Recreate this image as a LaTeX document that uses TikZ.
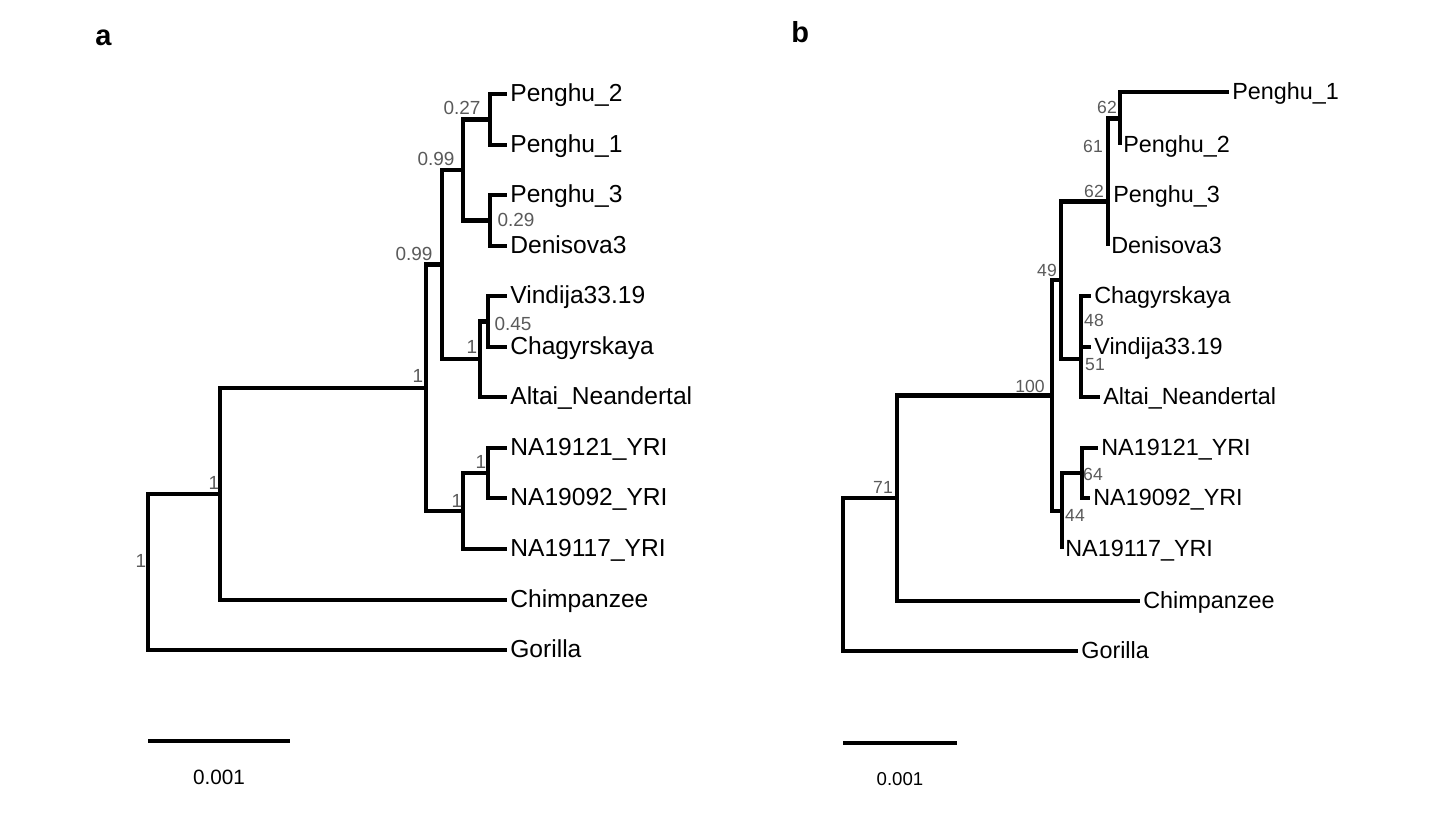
\documentclass[tikz,border=0pt]{standalone}
\usepackage{fontspec}
\setmainfont{Liberation Sans}
\definecolor{supportcolor}{HTML}{5A5A5A}
\tikzset{
  tree edge/.style={line width=2.7pt},
  scale bar/.style={line width=2.8pt},
  tip/.style={anchor=base west,inner sep=0pt,xshift=1.7pt,yshift=-4.25pt},
  tip a/.style={tip,font=\fontsize{14}{14}\selectfont},
  tip b/.style={tip,font=\fontsize{13.3}{14}\selectfont},
  support a/.style={text=supportcolor,inner sep=0pt,font=\fontsize{10.8}{11}\selectfont},
  support b/.style={text=supportcolor,inner sep=0pt,font=\fontsize{10}{11}\selectfont},
  panel/.style={anchor=base west,inner sep=0pt,font=\bfseries\fontsize{16.5}{17}\selectfont}
}

\begin{document}
\begin{tikzpicture}[x=0.02cm,y=-0.02cm]
  \useasboundingbox (0,0) rectangle (1456,816);

  % panel a
  \node[panel] (pa) at (95,45) {a};
  \foreach \n/\y/\t in {aP2/94/Penghu\_2,aP1/145/Penghu\_1,aP3/195/Penghu\_3,aD3/246/Denisova3,
      aVi/296/Vindija33.19,aCh/347/Chagyrskaya,aAl/397/Altai\_Neandertal,
      aN121/448/NA19121\_YRI,aN092/498/NA19092\_YRI,aN117/549/NA19117\_YRI,
      aPan/600/Chimpanzee,aGor/650/Gorilla}{
    \coordinate (\n) at (507,\y);
    \node[tip a] (\n-lab) at (\n) {\t};
  }
  \coordinate (a27) at (490,119.5);
  \coordinate (a29) at (490,220.5);
  \coordinate (a99b) at (463,170);
  \coordinate (a45) at (488,321.5);
  \coordinate (aNea) at (480,359);
  \coordinate (a99a) at (442,264.5);
  \coordinate (aY2) at (488,473);
  \coordinate (aY1) at (463,511);
  \coordinate (aHum) at (426,388);
  \coordinate (aAfr) at (220,494);
  \coordinate (aRoot) at (148,572);
  \foreach \p/\c in {a27/aP2,a27/aP1,a29/aP3,a29/aD3,a99b/a27,a99b/a29,
      a45/aVi,a45/aCh,aNea/a45,aNea/aAl,a99a/a99b,a99a/aNea,
      aY2/aN121,aY2/aN092,aY1/aY2,aY1/aN117,aHum/a99a,aHum/aY1,
      aAfr/aHum,aAfr/aPan,aRoot/aAfr,aRoot/aGor}{
    \draw[tree edge] (\p) |- (\c);
  }
  \foreach \n/\x/\y/\t in {s27/462/108/0.27,s29/516/220/0.29,s99b/436/159/0.99,
      s99a/414/254/0.99,s45/513/324/0.45,sNea/472/347/1,sY2/481/462/1,
      sY1/457/501/1,sHum/418/376/1,sAfr/214/483/1,sRoot/141/561/1}{
    \node[support a] (a\n) at (\x,\y) {\t};
  }
  \coordinate (sa0) at (148,741);
  \coordinate (sa1) at (290,741);
  \draw[scale bar] (sa0) -- (sa1);
  \node[font=\fontsize{11.8}{12}\selectfont,inner sep=0pt] (sa-lab) at (219,777) {0.001};

  % panel b
  \node[panel] (pb) at (791,42) {b};
  \foreach \n/\x/\y/\t in {bP1/1229/92/Penghu\_1,bP2/1120/145/Penghu\_2,bP3/1110/195/Penghu\_3,
      bD3/1108/246/Denisova3,bCh/1091/296/Chagyrskaya,bVi/1091/347/Vindija33.19,
      bAl/1100/397/Altai\_Neandertal,bN121/1098/448/NA19121\_YRI,
      bN092/1090/498/NA19092\_YRI,bN117/1062/549/NA19117\_YRI,
      bPan/1140/601/Chimpanzee,bGor/1078/651/Gorilla}{
    \coordinate (\n) at (\x,\y);
    \node[tip b] (\n-lab) at (\n) {\t};
  }
  \coordinate (b62a) at (1120,118.5);
  \coordinate (b61) at (1108,157);
  \coordinate (b62b) at (1108,201.5);
  \coordinate (b48) at (1081,321.5);
  \coordinate (b51) at (1081,359);
  \coordinate (b49) at (1061,280);
  \coordinate (b64) at (1082,473);
  \coordinate (b44) at (1062,511);
  \coordinate (b100) at (1052,395.5);
  \coordinate (b71) at (897,498);
  \coordinate (bRoot) at (843,574.5);
  \foreach \p/\c in {b62a/bP1,b62a/bP2,b61/b62a,b61/bP3,b62b/b61,b62b/bD3,
      b48/bCh,b48/bVi,b51/b48,b51/bAl,b49/b62b,b49/b51,
      b64/bN121,b64/bN092,b44/b64,b44/bN117,b100/b49,b100/b44,
      b71/b100,b71/bPan,bRoot/b71,bRoot/bGor}{
    \draw[tree edge] (\p) |- (\c);
  }
  \foreach \n/\x/\y/\t in {s62a/1107/107.5/62,s61/1093/146/61,s62b/1094/191/62,
      s49/1047/270/49,s100/1030/386/100,s71/883/487/71,s48/1094/320/48,
      s51/1095/365/51,s64/1093/474/64,s44/1075/515/44}{
    \node[support b] (b\n) at (\x,\y) {\t};
  }
  \coordinate (sb0) at (843,743);
  \coordinate (sb1) at (957,743);
  \draw[scale bar] (sb0) -- (sb1);
  \node[font=\fontsize{10.6}{11}\selectfont,inner sep=0pt] (sb-lab) at (900,779) {0.001};
\end{tikzpicture}
\end{document}
